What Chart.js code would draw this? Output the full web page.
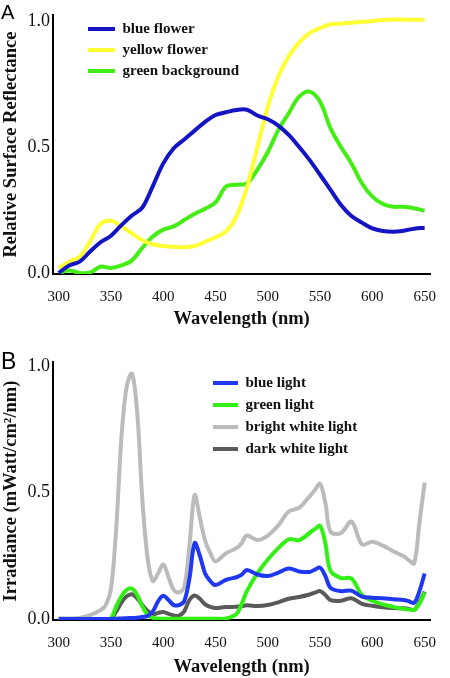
<!DOCTYPE html>
<html>
<head>
<meta charset="utf-8">
<script src="https://cdn.jsdelivr.net/npm/chart.js@4.4.1/dist/chart.umd.min.js"></script>
<style>
  body { margin: 0; background: #fff; }
  #wrap { position: relative; width: 450px; height: 678px; }
  canvas { position: absolute; left: 0; }
  .panel { position: absolute; left: 1px; font-family: "Liberation Sans", Arial, sans-serif; line-height: 1; color: #000; }
</style>
</head>
<body>
<div id="wrap">
  <canvas id="chartA" width="450" height="330" style="top:0"></canvas>
  <canvas id="chartB" width="450" height="348" style="top:330px"></canvas>
  <div class="panel" style="top:2px;font-size:20px">A</div>
  <div class="panel" style="top:350px;font-size:23px">B</div>
</div>
<script>
// panel A: surface reflectance
const wavelengthsA = [300, 310, 320, 330, 340, 350, 360, 370, 380, 390, 400, 410, 420, 430, 440, 450, 460, 470,
  480, 490, 500, 510, 520, 530, 540, 550, 560, 570, 580, 590, 600, 610, 620, 630, 640, 650];
const blueFlower = [0.0, 0.03, 0.045, 0.085, 0.122, 0.148, 0.19, 0.228, 0.26, 0.345, 0.435, 0.495, 0.53, 0.565, 0.6, 0.627, 0.638, 0.647,
  0.648, 0.625, 0.61, 0.585, 0.548, 0.5, 0.448, 0.39, 0.33, 0.27, 0.226, 0.2, 0.177, 0.167, 0.164, 0.168, 0.176, 0.18];
const yellowFlower = [0.02, 0.045, 0.065, 0.125, 0.195, 0.207, 0.185, 0.157, 0.13, 0.114, 0.107, 0.104, 0.102, 0.107, 0.124, 0.142, 0.165, 0.225,
  0.34, 0.5, 0.66, 0.78, 0.86, 0.915, 0.952, 0.972, 0.987, 0.99, 0.993, 0.997, 1.0, 1.004, 1.006, 1.006, 1.005, 1.005];
const greenBackground = [0.0, 0.01, 0.0, 0.002, 0.025, 0.02, 0.03, 0.05, 0.1, 0.145, 0.172, 0.185, 0.21, 0.235, 0.255, 0.28, 0.343, 0.35,
  0.356, 0.41, 0.48, 0.567, 0.634, 0.7, 0.72, 0.68, 0.574, 0.5, 0.435, 0.356, 0.303, 0.274, 0.263, 0.263, 0.257, 0.247];

// panel B: irradiance
const wavelengthsB = [300, 310, 320, 330, 340, 345, 350, 355, 360, 365, 370, 375, 380, 385, 390, 395, 400, 405, 410, 415,
  420, 425, 430, 435, 440, 445, 450, 460, 470, 475, 480, 490, 500, 510, 520, 530, 540, 545, 550, 555,
  560, 570, 580, 590, 600, 610, 620, 630, 635, 640, 645, 650];
const blueLight = [0, 0, 0, 0, 0, 0, 0, 0.001, 0.002, 0.003, 0.004, 0.005, 0.008, 0.012, 0.03, 0.07, 0.092, 0.075, 0.055, 0.055,
  0.07, 0.16, 0.3, 0.25, 0.18, 0.15, 0.134, 0.155, 0.165, 0.175, 0.194, 0.176, 0.17, 0.183, 0.2, 0.188, 0.186, 0.195, 0.203, 0.17,
  0.123, 0.11, 0.112, 0.088, 0.084, 0.082, 0.078, 0.075, 0.07, 0.064, 0.11, 0.18];
const greenLight = [0, 0, 0, 0, 0, 0, 0.002, 0.05, 0.09, 0.115, 0.12, 0.095, 0.05, 0.016, 0.004, 0.002, 0.001, 0.001, 0.001, 0.001,
  0.001, 0.001, 0.001, 0.001, 0.001, 0.001, 0.001, 0.002, 0.02, 0.06, 0.11, 0.18, 0.235, 0.28, 0.315, 0.312, 0.34, 0.355, 0.368, 0.3,
  0.19, 0.162, 0.16, 0.095, 0.072, 0.058, 0.048, 0.04, 0.038, 0.036, 0.06, 0.105];
const brightWhite = [0.003, 0.002, 0.004, 0.015, 0.035, 0.055, 0.12, 0.36, 0.72, 0.92, 0.97, 0.82, 0.47, 0.24, 0.15, 0.18, 0.215, 0.165, 0.115, 0.105,
  0.125, 0.29, 0.49, 0.4, 0.31, 0.26, 0.228, 0.26, 0.28, 0.3, 0.33, 0.312, 0.33, 0.37, 0.425, 0.44, 0.485, 0.51, 0.535, 0.46,
  0.345, 0.34, 0.385, 0.295, 0.305, 0.29, 0.268, 0.248, 0.232, 0.22, 0.38, 0.54];
const darkWhite = [0, 0, 0, 0, 0, 0, 0.002, 0.03, 0.065, 0.09, 0.098, 0.082, 0.055, 0.032, 0.019, 0.024, 0.028, 0.02, 0.014, 0.013,
  0.03, 0.075, 0.093, 0.08, 0.058, 0.048, 0.043, 0.047, 0.048, 0.05, 0.054, 0.051, 0.055, 0.066, 0.08, 0.087, 0.097, 0.104, 0.11, 0.095,
  0.075, 0.072, 0.082, 0.06, 0.052, 0.046, 0.043, 0.042, 0.04, 0.036, 0.065, 0.108];

const xTicks = [300, 350, 400, 450, 500, 550, 600, 650];
const yTicks = [0, 0.5, 1];

const serif = '"Liberation Serif", "Times New Roman", serif';

// move the legend into the plot, at a fixed spot
const legendShift = {
  id: 'legendShift',
  afterLayout(chart, args, opts) {
    const lg = chart.legend;
    const w = lg.width, h = lg.height;
    lg.left = chart.chartArea.left + opts.dx;
    lg.top = chart.chartArea.top + opts.dy;
    lg.right = lg.left + w;
    lg.bottom = lg.top + h;
  }
};

function series(label, xs, ys, color) {
  return {
    label: label,
    data: xs.map((x, i) => ({ x: x, y: ys[i] })),
    borderColor: color,
    backgroundColor: color,
    borderWidth: 4,
    pointRadius: 0,
    tension: 0.35,
    fill: false
  };
}

function makeChart(id, datasets, cfg) {
  return new Chart(document.getElementById(id), {
    type: 'line',
    data: { datasets: datasets },
    plugins: [legendShift],
    options: {
      responsive: false,
      animation: false,
      layout: { padding: { left: 0, right: 7, top: cfg.top, bottom: 0 } },
      plugins: {
        tooltip: { enabled: false },
        legendShift: { dx: cfg.legendX, dy: cfg.legendY },
        legend: {
          position: 'chartArea',
          align: 'start',
          labels: {
            boxWidth: cfg.boxWidth,
            boxHeight: 4,
            padding: cfg.legendGap,
            color: '#111',
            font: { family: serif, size: 15, weight: 'bold' },
            generateLabels: chart => Chart.defaults.plugins.legend.labels.generateLabels(chart)
              .map(l => ({ ...l, fillStyle: l.strokeStyle, lineWidth: 0 }))
          }
        }
      },
      scales: {
        x: {
          type: 'linear',
          min: 294.5,
          max: 655.5,
          afterFit: s => { s.height = cfg.xHeight; },
          afterBuildTicks: s => { s.ticks = xTicks.map(v => ({ value: v })); },
          grid: { display: false, drawTicks: false },
          border: { color: '#000', width: 2 },
          ticks: { autoSkip: false, maxRotation: 0, padding: 14, color: '#111', font: { family: serif, size: 15 } },
          title: { display: true, text: 'Wavelength (nm)', color: '#111', padding: 0, font: { family: serif, size: 18.5, weight: 'bold' } }
        },
        y: {
          min: cfg.yMin,
          max: cfg.yMax,
          afterFit: s => { s.width = 53; },
          afterBuildTicks: s => { s.ticks = yTicks.map(v => ({ value: v })); },
          grid: { display: false, drawTicks: false },
          border: { color: '#000', width: 2 },
          ticks: { padding: 3, color: '#111', font: { family: serif, size: 18 }, callback: v => v.toFixed(1) },
          title: { display: true, text: cfg.yTitle, color: '#111', padding: 0, font: { family: serif, size: 18.5, weight: 'bold' } }
        }
      }
    }
  });
}

makeChart('chartA', [
  series('blue flower', wavelengthsA, blueFlower, '#1414c4'),
  series('yellow flower', wavelengthsA, yellowFlower, '#ffff33'),
  series('green background', wavelengthsA, greenBackground, '#44ee14')
], { top: 15, xHeight: 56, yMin: -0.004, yMax: 1.024, legendX: 29, legendY: 0.5, legendGap: 6, boxWidth: 27,
     yTitle: 'Relative Surface Reflectance' });

makeChart('chartB', [
  series('blue light', wavelengthsB, blueLight, '#2038f0'),
  series('green light', wavelengthsB, greenLight, '#33f014'),
  series('bright white light', wavelengthsB, brightWhite, '#bbbbbb'),
  series('dark white light', wavelengthsB, darkWhite, '#5a5a5a')
], { top: 32, xHeight: 58, yMin: -0.004, yMax: 1.016, legendX: 153, legendY: 6.5, legendGap: 7, boxWidth: 25,
     yTitle: 'Irradiance (mWatt/cm\u00b2/nm)' });
</script>
</body>
</html>
